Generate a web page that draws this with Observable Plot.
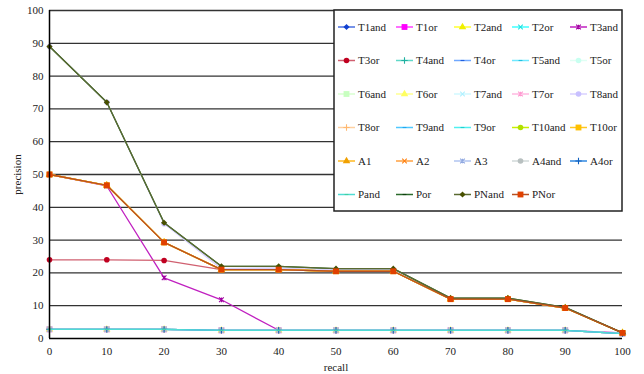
<!DOCTYPE html>
<html><head><meta charset="utf-8">
<script src="https://cdn.jsdelivr.net/npm/d3@7"></script>
<script src="https://cdn.jsdelivr.net/npm/@observablehq/plot@0.6"></script>
<style>
html,body{margin:0;padding:0;background:#fff;}
#chart{position:relative;width:644px;height:374px;}
#chart svg text{font-family:"Liberation Serif", serif !important;}
</style></head>
<body><div id="chart"></div>
<script>
// ---- data ----
const recall = [0, 10, 20, 30, 40, 50, 60, 70, 80, 90, 100];
const lowCurve   = [2.8, 2.8, 2.8, 2.5, 2.5, 2.5, 2.5, 2.5, 2.5, 2.5, 1.5];
const midCurve   = [50, 46.7, 29.3, 21, 21, 20.5, 20.5, 12, 12, 9.3, 1.7];
const highCurve  = [89, 72, 35.3, 22, 22, 21.3, 21.3, 12.3, 12.3, 9.5, 1.7];
const t3orCurve  = [24, 24, 23.8, 21, 21, 20.5, 20.5, 12, 12, 9.3, 1.7];
const t3andCurve = [50, 46.5, 18.5, 11.8, 2.5, 2.5, 2.5, 2.5, 2.5, 2.5, 1.7];
const t8andCurve = [89, 72, 35, 21.3, 21.5, 21, 21, 12.2, 12.2, 9.4, 1.7];
const seriesNames = ["T1and","T1or","T2and","T2or","T3and","T3or","T4and","T4or","T5and","T5or",
  "T6and","T6or","T7and","T7or","T8and","T8or","T9and","T9or","T10and","T10or",
  "A1","A2","A3","A4and","A4or","Pand","Por","PNand","PNor"];
const seriesValues = [lowCurve, lowCurve, midCurve, lowCurve, t3andCurve, t3orCurve, lowCurve, lowCurve, lowCurve, lowCurve,
  lowCurve, lowCurve, lowCurve, lowCurve, t8andCurve, lowCurve, lowCurve, lowCurve, midCurve, midCurve,
  midCurve, midCurve, lowCurve, lowCurve, lowCurve, lowCurve, highCurve, highCurve, midCurve];
const yTicks = [0,10,20,30,40,50,60,70,80,90,100];

// ---- styles ----
const FONT = "Liberation Serif, serif";
const dash = {draw(ctx, size){ const w = Math.sqrt(size)*0.5; ctx.moveTo(-w,0); ctx.lineTo(w,0); }};
const rhomb = {draw(ctx, size){ const w = Math.sqrt(size)*0.62; ctx.moveTo(0,-w); ctx.lineTo(w,0); ctx.lineTo(0,w); ctx.lineTo(-w,0); ctx.closePath(); }};
const xstar = {draw(ctx, size){ const w = Math.sqrt(size)*0.6; ctx.moveTo(-w,-w); ctx.lineTo(w,w); ctx.moveTo(-w,w); ctx.lineTo(w,-w); ctx.moveTo(0,-w); ctx.lineTo(0,w); }};
const S = {diamond:rhomb, square:d3.symbolSquare, triangle:d3.symbolTriangle, times:d3.symbolTimes,
  asterisk:xstar, circle:d3.symbolCircle, plus:d3.symbolPlus, dash};
const strokeSyms = new Set([d3.symbolTimes, xstar, d3.symbolPlus, dash]);
const styles = [
  ["#4a6fe0","#1040d0",S.diamond],["#ff40ff","#ff00ff",S.square],["#ffff30","#f0f000",S.triangle],["#40ffff","#20e0e0",S.times],["#c020c0","#a000a0",S.asterisk],
  ["#d06070","#c00020",S.circle],["#60d8c8","#20b0a0",S.plus],["#70a8ff","#2060e0",S.dash],["#70e8ff","#20c0e0",S.dash],["#e0fff4","#c8fff0",S.circle],
  ["#d8ffd0","#c8ffc0",S.square],["#ffff90","#ffff60",S.triangle],["#d0f8ff","#b0f0ff",S.times],["#ffb8e0","#ff98d0",S.asterisk],["#d8d0ff","#c8c0ff",S.circle],
  ["#ffd0a0","#ffb870",S.plus],["#50c8ff","#20a8f0",S.dash],["#50f0f0","#20d0d0",S.dash],["#c8f000","#b0e000",S.circle],["#ffc820","#ffc000",S.square],
  ["#ffb820","#f0a000",S.triangle],["#ffa040","#ff8010",S.times],["#b0c4f0","#90a8e0",S.asterisk],["#d0d8d8","#b8c0c0",S.circle],["#3088e0","#1060c0",S.plus],
  ["#50dcd4","#40d0a0",S.dash],["#2a6a2a","#104010",S.dash],["#5a6a30","#485000",S.diamond],["#b85020","#e04000",S.square]
];
const symR = sym => sym === d3.symbolSquare ? 3.3 : (strokeSyms.has(sym) ? 2.2 : 2.8);

const marks = [];
marks.push(Plot.ruleY(yTicks.filter(d => d > 0), {x1: 0, x2: 100, stroke:"#333", strokeWidth:1.3}));
seriesNames.forEach((name, k) => {
  const data = recall.map((x, i) => ({x, y: seriesValues[k][i]}));
  const [lineC, markC, sym] = styles[k];
  marks.push(Plot.line(data, {x:"x", y:"y", stroke: lineC, strokeWidth: 1.3}));
  const isStroke = strokeSyms.has(sym);
  marks.push(Plot.dot(data, {x:"x", y:"y", symbol: sym, r: symR(sym),
    fill: isStroke ? "none" : markC, stroke: isStroke ? markC : "none", strokeWidth: 1.1}));
});
marks.push(Plot.ruleX([0], {stroke:"#000", strokeWidth:1.5}));
marks.push(Plot.ruleY([0], {x1: 0, x2: 100, stroke:"#000", strokeWidth:1.5}));
marks.push(Plot.axisX({ticks: recall, tickSize: 0, tickPadding: 9, label: "recall", labelAnchor: "center", labelOffset: 32, labelArrow: "none"}));
marks.push(Plot.axisY({ticks: yTicks, tickSize: 0, tickPadding: 6, label: "precision", labelAnchor: "center", labelOffset: 36, labelArrow: "none"}));

const svg = Plot.plot({
  width: 644, height: 374,
  marginLeft: 49, marginRight: 22, marginTop: 10, marginBottom: 36,
  style: {fontFamily: FONT, fontSize: "11px", color: "#222", background: "#fff"},
  x: {domain: [0, 100]},
  y: {domain: [0, 100]},
  marks
});
document.getElementById("chart").appendChild(svg);

// ---- legend ----
const g = d3.select(svg).append("g").style("font-family", FONT).style("font-size", "11px").attr("text-anchor", "start");
g.append("rect").attr("x", 334).attr("y", 10).attr("width", 288).attr("height", 201)
  .attr("fill", "#fff").attr("stroke", "#222").attr("stroke-width", 1.5);
seriesNames.forEach((name, k) => {
  const col = k % 5, row = Math.floor(k / 5);
  const x0 = 338 + col * 58, y0 = 27 + row * 33.5;
  const [lineC, markC, sym] = styles[k];
  const isStroke = strokeSyms.has(sym);
  const r = symR(sym);
  g.append("line").attr("x1", x0).attr("x2", x0 + 17).attr("y1", y0).attr("y2", y0)
    .attr("stroke", lineC).attr("stroke-width", 1.5);
  g.append("path").attr("d", d3.symbol(sym, r * r * Math.PI)())
    .attr("transform", `translate(${x0 + 8.5},${y0})`)
    .attr("fill", isStroke ? "none" : markC).attr("stroke", isStroke ? markC : "none").attr("stroke-width", 1.1);
  g.append("text").attr("x", x0 + 20).attr("y", y0).attr("dy", "0.35em").attr("fill", "#222").text(name);
});
</script></body></html>
